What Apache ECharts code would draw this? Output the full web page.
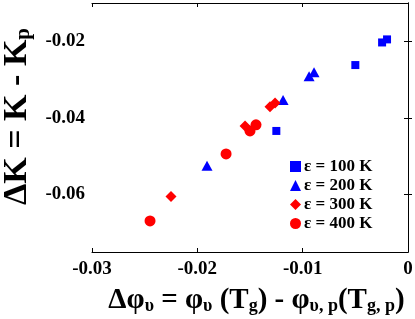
<!DOCTYPE html>
<html><head><meta charset="utf-8">
<script src="https://cdn.jsdelivr.net/npm/echarts@6/dist/echarts.min.js"></script>
<style>html,body{margin:0;padding:0;background:#fff}#c{width:415px;height:319px}</style>
</head><body><div id="c"></div>
<script>
const xTicks = [-0.03, -0.02, -0.01, 0];
const yTicks = [-0.06, -0.04, -0.02];
const seriesNames = ['ε = 100 K', 'ε = 200 K', 'ε = 300 K', 'ε = 400 K'];
const eps100 = [[-0.00199, -0.0195], [-0.00246, -0.0203], [-0.0050, -0.0262], [-0.0125, -0.0434]];
const eps200 = [[-0.00892, -0.0281], [-0.00939, -0.0291], [-0.01186, -0.0353], [-0.01908, -0.0525]];
const eps300 = [[-0.01262, -0.0361], [-0.01310, -0.0371], [-0.01547, -0.0421], [-0.02250, -0.0605]];
const eps400 = [[-0.01443, -0.0418], [-0.0150, -0.0434], [-0.01727, -0.0494], [-0.02449, -0.0669]];

const FONT = 'Liberation Serif';
const fmt = v => Math.abs(v) < 1e-9 ? '0' : v.toFixed(2);
const chart = echarts.init(document.getElementById('c'));
const axisLine = {show: true, lineStyle: {color: '#000', width: 1}};
const tick = {show: true, inside: true, length: 4, lineStyle: {color: '#000', width: 1}};
const lblStyle = {color: '#000', fontFamily: FONT, fontWeight: 'bold', fontSize: 19};

chart.setOption({
  animation: false,
  grid: {left: 92, right: 7, top: 3, bottom: 67, containLabel: false, outerBoundsMode: 'none'},
  xAxis: [{
    type: 'value', min: -0.03, max: 0, interval: 0.01,
    axisLine, axisTick: tick, splitLine: {show: false},
    axisLabel: Object.assign({margin: 8, formatter: fmt, customValues: xTicks}, lblStyle),
    name: '{m|Δφ}{s|υ}{m| = φ}{s|υ}{m| (T}{s|g}{m|) - φ}{s|υ, p}{m|(T}{s|g, p}{m|)}',
    nameLocation: 'middle', nameGap: 32,
    nameTextStyle: {
      padding: [0, 0, 0, 13],
      rich: {
        m: {fontFamily: FONT, fontWeight: 'bold', fontSize: 29, color: '#000', lineHeight: 31, verticalAlign: 'bottom'},
        s: {fontFamily: FONT, fontWeight: 'bold', fontSize: 18, color: '#000', lineHeight: 31, verticalAlign: 'bottom', padding: [12, 0, 0, 0]}
      }
    }
  }, {
    type: 'value', position: 'top', min: -0.03, max: 0, interval: 0.01,
    axisLine, axisTick: tick, axisLabel: {show: false}, splitLine: {show: false}
  }],
  yAxis: [{
    type: 'value', min: -0.075, max: -0.01,
    axisLine, axisTick: Object.assign({customValues: yTicks}, tick), splitLine: {show: false},
    axisLabel: Object.assign({margin: 7, formatter: fmt, customValues: yTicks}, lblStyle),
    name: '{m|ΔK = K - K}{s|p}',
    nameLocation: 'middle', nameGap: 56,
    nameTextStyle: {
      padding: [0, 0, 0, 22],
      rich: {
        m: {fontFamily: FONT, fontWeight: 'bold', fontSize: 34, color: '#000', lineHeight: 36, verticalAlign: 'bottom'},
        s: {fontFamily: FONT, fontWeight: 'bold', fontSize: 21, color: '#000', lineHeight: 36, verticalAlign: 'bottom', padding: [14, 0, 0, 0]}
      }
    }
  }, {
    type: 'value', position: 'right', min: -0.075, max: -0.01,
    axisLine, axisTick: Object.assign({customValues: yTicks}, tick), axisLabel: {show: false}, splitLine: {show: false}
  }],
  legend: {
    orient: 'vertical', left: 285, top: 152, itemWidth: 11, itemHeight: 11, itemGap: 0,
    textStyle: {color: '#000', fontFamily: FONT, fontWeight: 'bold', fontSize: 17, lineHeight: 19, padding: [0, 0, 0, -2]},
    data: seriesNames
  },
  series: [
    {type: 'scatter', name: seriesNames[0], data: eps100, symbol: 'rect', symbolSize: 8, itemStyle: {color: '#0000ff', opacity: 1}},
    {type: 'scatter', name: seriesNames[1], data: eps200, symbol: 'triangle', symbolSize: [11, 10], itemStyle: {color: '#0000ff', opacity: 1}},
    {type: 'scatter', name: seriesNames[2], data: eps300, symbol: 'diamond', symbolSize: 11, itemStyle: {color: '#ff0000', opacity: 1}},
    {type: 'scatter', name: seriesNames[3], data: eps400, symbol: 'circle', symbolSize: 11, itemStyle: {color: '#ff0000', opacity: 1}}
  ]
});
</script></body></html>
